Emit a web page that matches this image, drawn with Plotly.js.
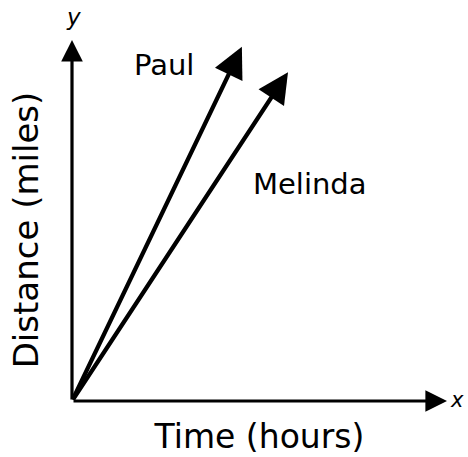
<!DOCTYPE html>
<html>
<head>
<meta charset="utf-8">
<script src="https://cdn.plot.ly/plotly-3.0.1.min.js"></script>
<style>html,body{margin:0;padding:0;background:#fff}#chart{width:468px;height:457px}</style>
</head>
<body>
<div id="chart"></div>
<script>
// Data (arbitrary units)
const names = ["Paul", "Melinda"];
const startX = [0, 0];
const startY = [0, 0];
const endX = [4.53, 5.76];
const endY = [9.81, 9.11];
const labelX = [2.45, 6.35];
const labelY = [9.3, 6.0];
const axisMax = [10, 10];
const xTitle = "Time (hours)";
const yTitle = "Distance (miles)";

const FONT = "DejaVu Sans, Verdana, sans-serif";
const annotations = [];
// axes with arrows
annotations.push({x: axisMax[0], y: 0, ax: 0, ay: 0, xref: 'x', yref: 'y', axref: 'x', ayref: 'y',
  text: '', showarrow: true, arrowhead: 2, arrowsize: 1.35, arrowwidth: 3.2, arrowcolor: '#000'});
annotations.push({x: 0, y: axisMax[1], ax: 0, ay: 0, xref: 'x', yref: 'y', axref: 'x', ayref: 'y',
  text: '', showarrow: true, arrowhead: 2, arrowsize: 1.35, arrowwidth: 3.2, arrowcolor: '#000'});
// series arrows
for (let i = 0; i < names.length; i++) {
  annotations.push({x: endX[i], y: endY[i], ax: startX[i], ay: startY[i], xref: 'x', yref: 'y', axref: 'x', ayref: 'y',
    text: '', showarrow: true, arrowhead: 2, arrowsize: 1.45, arrowwidth: 4.2, arrowcolor: '#000'});
  annotations.push({x: labelX[i], y: labelY[i], xref: 'x', yref: 'y', text: names[i], showarrow: false,
    font: {family: FONT, size: 29, color: '#000'}});
}
// axis letters
annotations.push({x: axisMax[0], y: 0, xref: 'x', yref: 'y', text: '<i>x</i>', showarrow: false,
  xanchor: 'left', xshift: 2, yshift: 1, borderpad: 0, font: {family: FONT, size: 21, color: '#000'}});
annotations.push({x: 0, y: axisMax[1], xref: 'x', yref: 'y', text: '<i>y</i>', showarrow: false,
  yanchor: 'bottom', yshift: 8, xshift: 1, font: {family: FONT, size: 23, color: '#000'}});

const layout = {
  width: 468, height: 457,
  margin: {l: 72, r: 21, t: 40, b: 37},
  paper_bgcolor: '#fff', plot_bgcolor: '#fff',
  showlegend: false,
  xaxis: {range: [0, axisMax[0]], showgrid: false, zeroline: false, showline: false, showticklabels: false, ticks: '',
    fixedrange: true,
    title: {text: xTitle, standoff: 4, font: {family: FONT, size: 33, color: '#000'}}},
  yaxis: {range: [-0.526, axisMax[1]], showgrid: false, zeroline: false, showline: false, showticklabels: false, ticks: '',
    fixedrange: true,
    title: {text: yTitle, standoff: 22, font: {family: FONT, size: 34, color: '#000'}}},
  annotations: annotations
};
Plotly.newPlot('chart', [{x: [], y: [], type: 'scatter', mode: 'lines', hoverinfo: 'skip'}], layout, {displayModeBar: false, staticPlot: true});
</script>
</body>
</html>
